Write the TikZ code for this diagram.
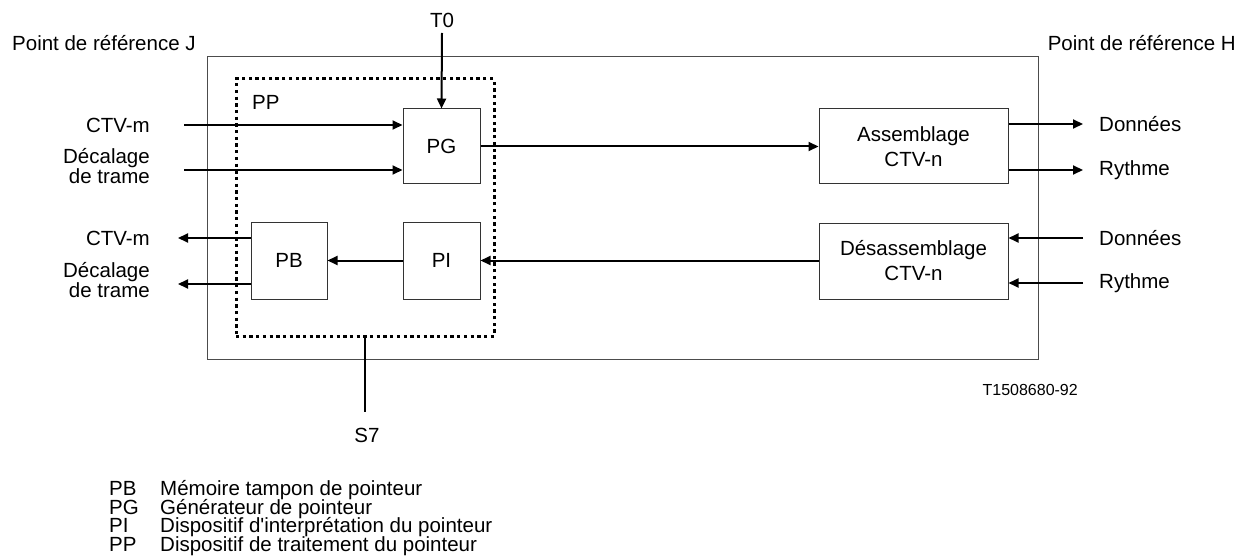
\documentclass[tikz,border=0pt]{standalone}
\usepackage{fontspec}
\setmainfont{Liberation Sans}
\usetikzlibrary{arrows.meta}
\begin{document}
\begin{tikzpicture}[x=1pt,y=-1pt,
  every node/.style={font=\fontsize{20.5}{19}\selectfont, inner sep=0pt},
  blk/.style={draw=black!80, line width=1pt, fill=white, align=center,
    font=\fontsize{20.5}{25}\selectfont},
  frame/.style={draw=black!70, line width=1pt},
  ppbox/.style={draw=black, line width=3pt, dash pattern=on 3.3pt off 3.4pt},
  sig/.style={line width=2pt},
  arr/.style={sig, -{Triangle[length=10pt,width=9pt]}},
  lbl/.style={align=right},
  small/.style={font=\fontsize{16}{18}\selectfont},
  leg/.style={anchor=base west, text height=12pt, text depth=3pt},
]
\useasboundingbox (0,0) rectangle (1248,559);

% outer frame and dotted PP region
\node[frame, minimum width=831pt, minimum height=302pt] (outer) at (622.5,208) {};
\node[ppbox, minimum width=258pt, minimum height=257pt] (pp) at (365,207.5) {};

% blocks
\node[blk, minimum width=77pt, minimum height=75pt] (PG) at (441.5,146.5) {PG};
\node[blk, minimum width=76pt, minimum height=77pt] (PB) at (289,260.5) {PB};
\node[blk, minimum width=77pt, minimum height=77pt] (PI) at (441.5,260.5) {PI};
\node[blk, minimum width=189pt, minimum height=75pt] (AS) at (913.5,146.5) {Assemblage\\CTV-n};
\node[blk, minimum width=189pt, minimum height=76pt] (DS) at (913.5,261) {Désassemblage\\CTV-n};

% titles
\node[anchor=west] (refJ) at (12,43) {Point de référence J};
\node[anchor=east] (refH) at (1236,43) {Point de référence H};
\node (T0) at (442,20) {T0};
\node[anchor=west] (PPl) at (252,102) {PP};

% left labels
\node[anchor=east] (ctvmi) at (150,125) {CTV-m};
\node[anchor=east, lbl] (dtin) at (150,166) {Décalage\\de trame};
\node[anchor=east] (ctvmo) at (150,238) {CTV-m};
\node[anchor=east, lbl] (dtout) at (150,280) {Décalage\\de trame};

% right labels
\node[anchor=west] (do1) at (1099,124) {Données};
\node[anchor=west] (ry1) at (1099,170) {Rythme};
\node[anchor=west] (do2) at (1099,238) {Données};
\node[anchor=west] (ry2) at (1099,283) {Rythme};

% connectors
\coordinate (t0s) at (442,33);
\draw[arr] (t0s) -- (PG.north);

\coordinate (c1) at (184,125);
\coordinate (c2) at (184,170);
\draw[arr] (c1) -- (c1 -| PG.west);
\draw[arr] (c2) -- (c2 -| PG.west);

\coordinate (c3) at (178,238);
\coordinate (c4) at (178,284);
\draw[arr] (c3 -| PB.west) -- (c3);
\draw[arr] (c4 -| PB.west) -- (c4);

\draw[arr] (PI.west) -- (PB.east);
\draw[arr] (DS.west |- PI.east) -- (PI.east);
\draw[arr] (PG.east) -- (PG.east -| AS.west);

\coordinate (r1) at (1083,124);
\coordinate (r2) at (1083,170);
\coordinate (r3) at (1083,238);
\coordinate (r4) at (1083,283);
\draw[arr] (r1 -| AS.east) -- (r1);
\draw[arr] (r2 -| AS.east) -- (r2);
\draw[arr] (r3) -- (r3 -| DS.east);
\draw[arr] (r4) -- (r4 -| DS.east);

\coordinate (s7e) at (365,412);
\draw[sig] (pp.south) -- (s7e);
\node (S7) at (367,435) {S7};

\node[small, anchor=east] (ref) at (1078,390) {T1508680-92};

% legend
\node[leg] (kPB) at (109,495.5) {PB};
\node[leg] (tPB) at (160,495.5) {Mémoire tampon de pointeur};
\node[leg] (kPG) at (109,514) {PG};
\node[leg] (tPG) at (160,514) {Générateur de pointeur};
\node[leg] (kPI) at (109,532.5) {PI};
\node[leg] (tPI) at (160,532.5) {Dispositif d\textquotesingle interprétation du pointeur};
\node[leg] (kPP) at (109,551) {PP};
\node[leg] (tPP) at (160,551) {Dispositif de traitement du pointeur};
\end{tikzpicture}
\end{document}
